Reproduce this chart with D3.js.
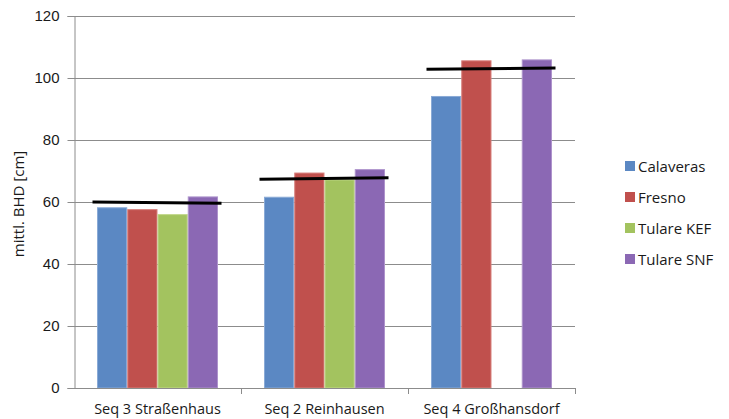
<!DOCTYPE html>
<html>
<head>
<meta charset="utf-8">
<script src="https://cdn.jsdelivr.net/npm/d3@7"></script>
<style>
    body { margin: 0; background: #fff; }
    svg { font-family: 'Open Sans', 'DejaVu Sans', sans-serif; }
</style>
</head>
<body>
<svg id="chart" width="729" height="419"></svg>
<script>
const categories = ['Seq 3 Straßenhaus', 'Seq 2 Reinhausen', 'Seq 4 Großhansdorf']
const seriesNames = ['Calaveras', 'Fresno', 'Tulare KEF', 'Tulare SNF']
const calaveras = [58.3, 61.7, 94.2]
const fresno = [57.7, 69.5, 105.7]
const tulareKEF = [56.1, 67.3, null]
const tulareSNF = [61.8, 70.6, 106.0]
// black reference lines per site (left end, right end)
const meanStart = [60.0, 67.3, 102.8]
const meanEnd = [59.6, 67.8, 103.2]
const yTicks = [0, 20, 40, 60, 80, 100, 120]

const colours = ['#5B88C3', '#C0504D', '#A3C35F', '#8B68B4']
const strokes = ['#8AAAD6', '#D8807D', '#C2D88D', '#AE93CC']
const seriesValues = [calaveras, fresno, tulareKEF, tulareSNF]

const margin = { left: 74, top: 16, right: 154, bottom: 31 }
const width = 729 - margin.left - margin.right
const height = 419 - margin.top - margin.bottom

const svg = d3.select('#chart')
const chart = svg.append('g').attr('transform', `translate(${margin.left}, ${margin.top})`)

const x = d3.scaleBand().domain(categories).range([0, width]).paddingInner(0).paddingOuter(0)
const inner = 23
const xSeries = d3.scaleBand().domain(seriesNames).range([inner, x.bandwidth() - inner])
const y = d3.scaleLinear().domain([0, 120]).range([height, 0])

// gridlines
chart.append('g')
    .selectAll('line')
    .data(yTicks)
    .join('line')
    .attr('x1', 0)
    .attr('x2', width)
    .attr('y1', d => Math.round(y(d)) + 0.5)
    .attr('y2', d => Math.round(y(d)) + 0.5)
    .attr('stroke', '#8c8c8c')
    .attr('stroke-width', 1)

// y axis
chart.append('g')
    .attr('class', 'y-axis-group')
    .attr('transform', 'translate(0.5, 0)')
    .style('font-size', '15px')
    .call(d3.axisLeft(y).tickValues(yTicks).tickSize(7).tickPadding(8))
    .call(g => {
        g.select('.domain').attr('stroke', '#8c8c8c')
        g.selectAll('.tick line').attr('stroke', '#8c8c8c')
        g.selectAll('text').attr('fill', '#1a1a1a')
    })

// bars
seriesNames.forEach((name, i) => {
    chart.append('g')
        .selectAll('rect')
        .data(categories.map((c, j) => ({ c, v: seriesValues[i][j] })).filter(d => d.v !== null))
        .join('rect')
        .attr('x', d => x(d.c) + xSeries(name) + 0.5)
        .attr('y', d => y(d.v) + 0.5)
        .attr('width', xSeries.bandwidth() - 1)
        .attr('height', d => y(0) - y(d.v) - 0.5)
        .attr('fill', colours[i])
        .attr('stroke', strokes[i])
        .attr('stroke-width', 1)
})

// x axis
chart.append('g')
    .attr('transform', `translate(0, ${height})`)
    .call(g => {
        g.append('line')
            .attr('x1', 0).attr('x2', width)
            .attr('y1', 0.5).attr('y2', 0.5)
            .attr('stroke', '#8c8c8c')
        g.selectAll('.xtick')
            .data(categories)
            .join('line')
            .attr('class', 'xtick')
            .attr('x1', d => Math.round(x(d) + x.bandwidth()) + 0.5)
            .attr('x2', d => Math.round(x(d) + x.bandwidth()) + 0.5)
            .attr('y1', 0)
            .attr('y2', 6)
            .attr('stroke', '#8c8c8c')
        g.selectAll('.xlabel')
            .data(categories)
            .join('text')
            .attr('class', 'xlabel')
            .attr('x', d => x(d) + x.bandwidth() / 2)
            .attr('y', 26)
            .attr('text-anchor', 'middle')
            .attr('fill', '#1a1a1a')
            .style('font-size', '14.5px')
            .text(d => d)
    })

// mean lines
chart.append('g')
    .selectAll('line')
    .data(categories.map((c, j) => ({ c, a: meanStart[j], b: meanEnd[j] })))
    .join('line')
    .attr('x1', d => x(d.c) + inner - 4.5)
    .attr('x2', d => x(d.c) + x.bandwidth() - inner + 3.5)
    .attr('y1', d => y(d.a))
    .attr('y2', d => y(d.b))
    .attr('stroke', '#000')
    .attr('stroke-width', 3)

// y label
svg.append('text')
    .attr('transform', `translate(24, ${margin.top + height / 2 + 2}) rotate(-90)`)
    .attr('text-anchor', 'middle')
    .attr('fill', '#1a1a1a')
    .style('font-size', '15px')
    .text('mittl. BHD [cm]')

// legend
const legend = svg.append('g').attr('transform', 'translate(625, 166)')
seriesNames.forEach((name, i) => {
    const row = legend.append('g').attr('transform', `translate(0, ${i * 31})`)
    row.append('rect')
        .attr('x', 0).attr('y', -5)
        .attr('width', 10).attr('height', 10)
        .attr('fill', colours[i])
    row.append('text')
        .attr('x', 13).attr('y', 5.5)
        .attr('fill', '#1a1a1a')
        .style('font-size', '15px')
        .text(name)
})
</script>
</body>
</html>
